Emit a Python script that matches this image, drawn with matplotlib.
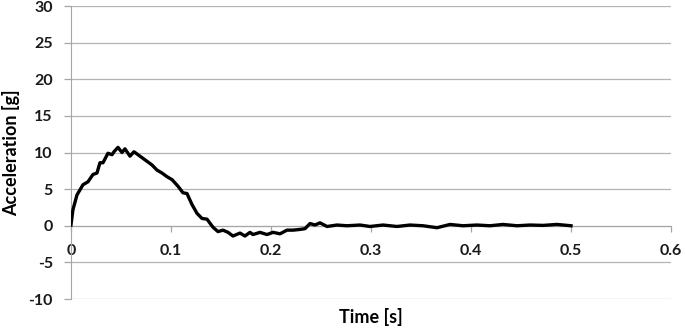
import matplotlib.pyplot as plt

# acceleration trace
time_s = [0.000, 0.002, 0.006, 0.012, 0.017, 0.022, 0.026, 0.029, 0.032, 0.037,
          0.041, 0.043, 0.047, 0.051, 0.054, 0.059, 0.063, 0.069, 0.076, 0.081,
          0.086, 0.091, 0.096, 0.101, 0.107, 0.112, 0.116, 0.121, 0.126, 0.131,
          0.136, 0.142, 0.147, 0.152, 0.157, 0.162, 0.169, 0.174, 0.179, 0.182,
          0.189, 0.196, 0.202, 0.209, 0.216, 0.222, 0.229, 0.234, 0.239, 0.244,
          0.249, 0.256, 0.266, 0.276, 0.289, 0.299, 0.312, 0.326, 0.339, 0.352,
          0.366, 0.379, 0.392, 0.406, 0.419, 0.432, 0.446, 0.459, 0.472, 0.486,
          0.500]
accel_g = [0.1, 2.2, 4.2, 5.6, 6.0, 7.0, 7.2, 8.6, 8.6, 9.9,
           9.7, 10.1, 10.7, 10.0, 10.5, 9.5, 10.1, 9.5, 8.8, 8.3,
           7.6, 7.2, 6.7, 6.3, 5.4, 4.5, 4.4, 2.9, 1.7, 1.0,
           0.9, -0.2, -0.8, -0.6, -0.9, -1.4, -1.0, -1.4, -0.9, -1.2,
           -0.9, -1.2, -0.9, -1.1, -0.6, -0.6, -0.5, -0.4, 0.3, 0.1,
           0.4, -0.1, 0.1, 0.0, 0.1, -0.1, 0.1, -0.1, 0.1, 0.0,
           -0.27, 0.18, 0.0, 0.1, 0.0, 0.18, 0.0, 0.1, 0.05, 0.18,
           0.0]

x_ticks = [0, 0.1, 0.2, 0.3, 0.4, 0.5, 0.6]
x_labels = ['0', '0.1', '0.2', '0.3', '0.4', '0.5', '0.6']
y_ticks = [-10, -5, 0, 5, 10, 15, 20, 25, 30]

plt.rcParams['font.family'] = ['Lato', 'DejaVu Sans']
plt.rcParams['axes.unicode_minus'] = False

fig = plt.figure(figsize=(6.85, 3.28), dpi=100)
ax = fig.add_axes([0.1036, 0.0884, 0.876, 0.8933])

ax.plot(time_s, accel_g, color='black', linewidth=2.4, zorder=3)

ax.set_xlim(0, 0.6)
ax.set_ylim(-10, 30)
ax.set_xticks(x_ticks)
ax.set_xticklabels(x_labels)
ax.set_yticks(y_ticks)

# gridlines
ax.yaxis.grid(True, color='#b3b3b3', linewidth=0.9)
ax.set_axisbelow(True)

# spines: x axis crosses at y=0 like in Excel
for s in ['top', 'right']:
    ax.spines[s].set_visible(False)
ax.spines['bottom'].set_position(('data', 0))
ax.spines['bottom'].set_color('#a6a6a6')
ax.spines['left'].set_color('#a6a6a6')
ax.spines['bottom'].set_zorder(2)

ax.tick_params(axis='both', colors='#a6a6a6', width=0.9,
               labelcolor='#1a1a1a', labelsize=11.5)
ax.tick_params(axis='x', length=4, pad=9)
ax.tick_params(axis='y', length=5, pad=8)
for lbl in ax.get_xticklabels() + ax.get_yticklabels():
    lbl.set_fontweight('bold')

ax.set_xlabel('Time [s]', fontsize=13, fontweight='bold', color='black')
ax.xaxis.set_label_coords(0.5, -0.03)
ax.set_ylabel('Acceleration [g]', fontsize=13, fontweight='bold', color='black')
ax.yaxis.set_label_coords(-0.085, 0.5)

fig.savefig('out.png', dpi=100)
